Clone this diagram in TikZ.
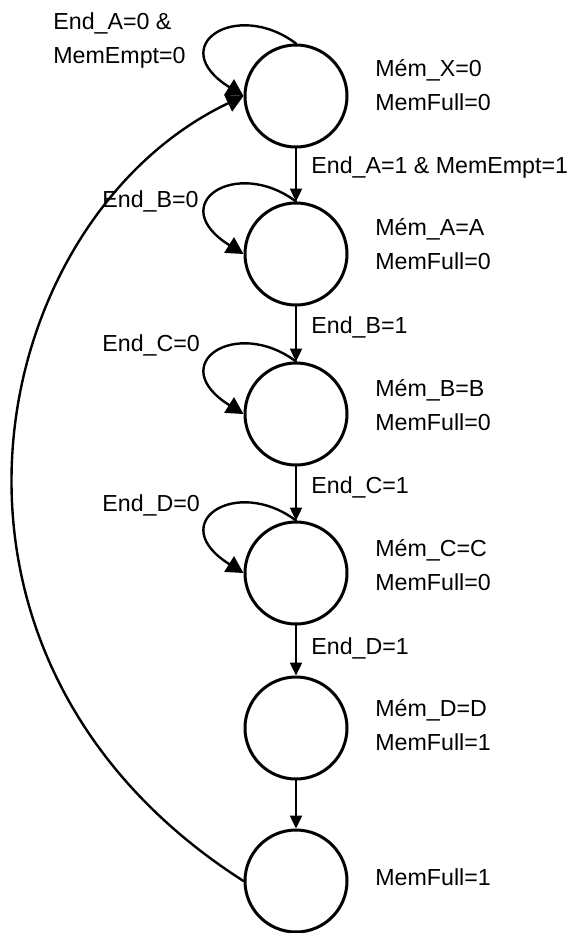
\documentclass[tikz,border=0pt]{standalone}
\usepackage{fontspec}
\setmainfont{Liberation Sans}
\usetikzlibrary{arrows.meta}

\begin{document}
\begin{tikzpicture}[x=0.5pt, y=-0.5pt, line cap=round, line join=round,
    state/.style={circle, draw, line width=1.5pt, minimum size=51pt, inner sep=0pt},
    trans/.style={-{Triangle[length=6.5pt,width=6pt]}, line width=1.2pt},
    selfloop/.style={-{Triangle[length=8.5pt,width=9pt]}, line width=1.2pt},
    lbl/.style={font=\fontsize{11.6}{17}\selectfont, anchor=base west, inner sep=0pt, align=left}]
    \path[use as bounding box] (0,0) rectangle (571,933);
    \foreach \i/\y in {1/96,2/254,3/414,4/573,5/728,6/881}
        \node[state] (S\i) at (296,\y) {};
    \foreach \a/\b in {1/2,2/3,3/4,4/5,5/6}
        \draw[trans] (S\a.south) -- (S\b.north);
    \foreach \i in {1,2,3,4}
        \draw[selfloop] (S\i.north) .. controls +(-60,-45) and +(-80,-50) .. (S\i.west);
    \draw[selfloop] (S6.west) .. controls (-110,655) and (-14,218) .. (S1.west);
    % outputs of each state
    \node[lbl] (O1) at (375,110) {Mém\_X=0\\MemFull=0};
    \node[lbl] (O2) at (375,269) {Mém\_A=A\\MemFull=0};
    \node[lbl] (O3) at (375,430) {Mém\_B=B\\MemFull=0};
    \node[lbl] (O4) at (375,590) {Mém\_C=C\\MemFull=0};
    \node[lbl] (O5) at (375,750) {Mém\_D=D\\MemFull=1};
    \node[lbl] (O6) at (375,885) {MemFull=1};
    % conditions
    \node[lbl] (L1) at (53,63) {End\_A=0 \&\\MemEmpt=0};
    \node[lbl] (L2) at (102,207) {End\_B=0};
    \node[lbl] (L3) at (102,351) {End\_C=0};
    \node[lbl] (L4) at (102,511) {End\_D=0};
    \node[lbl] (T12) at (311,173) {End\_A=1 \& MemEmpt=1};
    \node[lbl] (T23) at (311,333) {End\_B=1};
    \node[lbl] (T34) at (311,493) {End\_C=1};
    \node[lbl] (T45) at (311,654) {End\_D=1};
\end{tikzpicture}
\end{document}
